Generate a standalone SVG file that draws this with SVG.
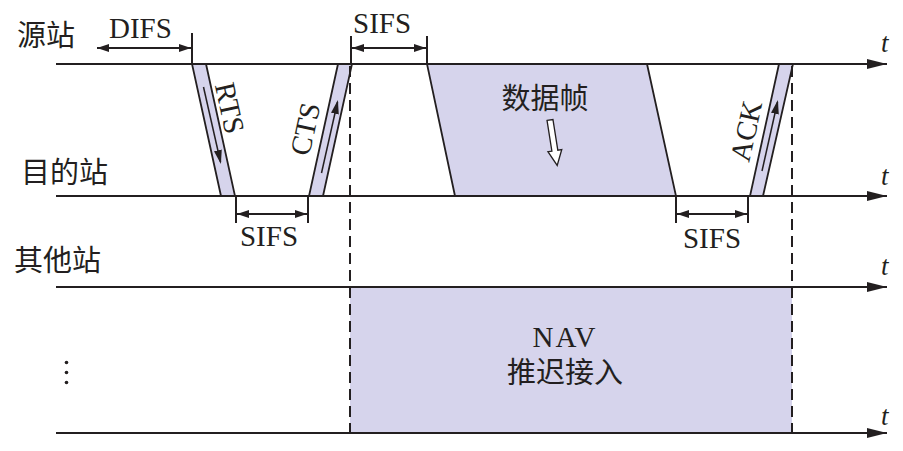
<svg xmlns="http://www.w3.org/2000/svg" width="903" height="451" viewBox="0 0 903 451">
<defs>
<style>
.ln{stroke:#231f20;stroke-width:2;fill:none}
.band{fill:#d6d4ec;stroke:#231f20;stroke-width:1.8;stroke-linejoin:miter}
.thin{stroke:#231f20;stroke-width:1.5;fill:none}
.dash{stroke:#231f20;stroke-width:2;stroke-dasharray:11 6;fill:none}
.lat{font-family:'Liberation Serif','Times New Roman',serif;font-size:29px;fill:#231f20}
.cjk{font-family:'Liberation Serif','Noto Sans CJK SC',sans-serif;font-size:29px;fill:#231f20}
.t{font-family:'Liberation Serif',serif;font-style:italic;font-size:27px;fill:#231f20}
</style>
<marker id="ax" viewBox="0 0 20 10" refX="20" refY="5" markerWidth="20" markerHeight="10" markerUnits="userSpaceOnUse" orient="auto">
<path d="M0,0 L20,5 L0,10 z" fill="#231f20"/>
</marker>
<marker id="dim" viewBox="0 0 12 8" refX="12" refY="4" markerWidth="12" markerHeight="8" markerUnits="userSpaceOnUse" orient="auto-start-reverse">
<path d="M0,0 L12,4 L0,8 z" fill="#231f20"/>
</marker>
<marker id="ah" viewBox="0 0 14 8" refX="12" refY="4" markerWidth="14" markerHeight="8" markerUnits="userSpaceOnUse" orient="auto">
<path d="M0,0 L14,4 L0,8 z" fill="#231f20"/>
</marker>
</defs>
<rect width="903" height="451" fill="#ffffff"/>

<g id="nav">
<rect x="350" y="287" width="442" height="146" fill="#d6d4ec"/>
<text class="lat" x="565" y="347" text-anchor="middle" letter-spacing="2">NAV</text>
<text class="cjk" x="565" y="383" text-anchor="middle">推迟接入</text>
</g>

<g id="data-frame">
<polygon class="band" points="427,64 647,64 676,196 455,196"/>
<text class="cjk" x="545" y="109" text-anchor="middle">数据帧</text>
<polygon points="-3,0 3,0 3,31 7,31 0,46 -7,31 -3,31" transform="translate(550,120) rotate(-9)" fill="#ffffff" stroke="#231f20" stroke-width="1.3" stroke-linejoin="miter"/>
</g>

<g id="rts">
<polygon class="band" points="192,64 206,64 235,196 221,196"/>
<path class="thin" d="M203.5,87 L220.5,162" marker-end="url(#ah)"/>
<text class="lat" transform="translate(230,108) rotate(77.6)" x="0" y="10" text-anchor="middle">RTS</text>
</g>

<g id="cts">
<polygon class="band" points="338,64 352,64 323,196 309,196"/>
<path class="thin" d="M321.5,173 L337.5,102" marker-end="url(#ah)"/>
<text class="lat" transform="translate(305,129) rotate(-77.6)" x="0" y="10" text-anchor="middle">CTS</text>
</g>

<g id="ack">
<polygon class="band" points="779,64 793,64 763,196 750,196"/>
<path class="thin" d="M762,171 L777.5,102" marker-end="url(#ah)"/>
<text class="lat" transform="translate(746,131) rotate(-77.4)" x="0" y="10" text-anchor="middle">ACK</text>
</g>

<g id="labels">
<text class="cjk" x="17" y="46">源站</text>
<text class="cjk" x="21" y="183">目的站</text>
<text class="cjk" x="14" y="271">其他站</text>
<circle cx="66.5" cy="362.5" r="1.8" fill="#231f20"/>
<circle cx="66.5" cy="372.5" r="1.8" fill="#231f20"/>
<circle cx="66.5" cy="382.5" r="1.8" fill="#231f20"/>
<text class="t" x="881" y="52">t</text>
<text class="t" x="881" y="185">t</text>
<text class="t" x="881" y="275">t</text>
<text class="t" x="881" y="425">t</text>
</g>

<g id="connectors">
<path class="ln" d="M56,64 H887" marker-end="url(#ax)"/>
<path class="ln" d="M56,196 H887" marker-end="url(#ax)"/>
<path class="ln" d="M56,287 H887" marker-end="url(#ax)"/>
<path class="ln" d="M56,433 H887" marker-end="url(#ax)"/>
<path class="dash" d="M350,66 V433"/>
<path class="dash" d="M792,66 V433"/>
</g>

<g id="difs">
<path class="ln" d="M192,33 V64"/>
<path class="ln" d="M97,48 H191" marker-start="url(#dim)" marker-end="url(#dim)"/>
<text class="lat" x="109" y="38">DIFS</text>
</g>

<g id="sifs-top">
<path class="ln" d="M351,36 V64 M427,36 V64"/>
<path class="ln" d="M352,48 H426" marker-start="url(#dim)" marker-end="url(#dim)"/>
<text class="lat" x="353" y="33">SIFS</text>
</g>

<g id="sifs-left">
<path class="ln" d="M236,196 V223 M308,196 V223"/>
<path class="ln" d="M237,214 H307" marker-start="url(#dim)" marker-end="url(#dim)"/>
<text class="lat" x="269" y="246" text-anchor="middle">SIFS</text>
</g>

<g id="sifs-right">
<path class="ln" d="M676,196 V223 M748,196 V223"/>
<path class="ln" d="M677,214 H747" marker-start="url(#dim)" marker-end="url(#dim)"/>
<text class="lat" x="712" y="248" text-anchor="middle">SIFS</text>
</g>
</svg>
